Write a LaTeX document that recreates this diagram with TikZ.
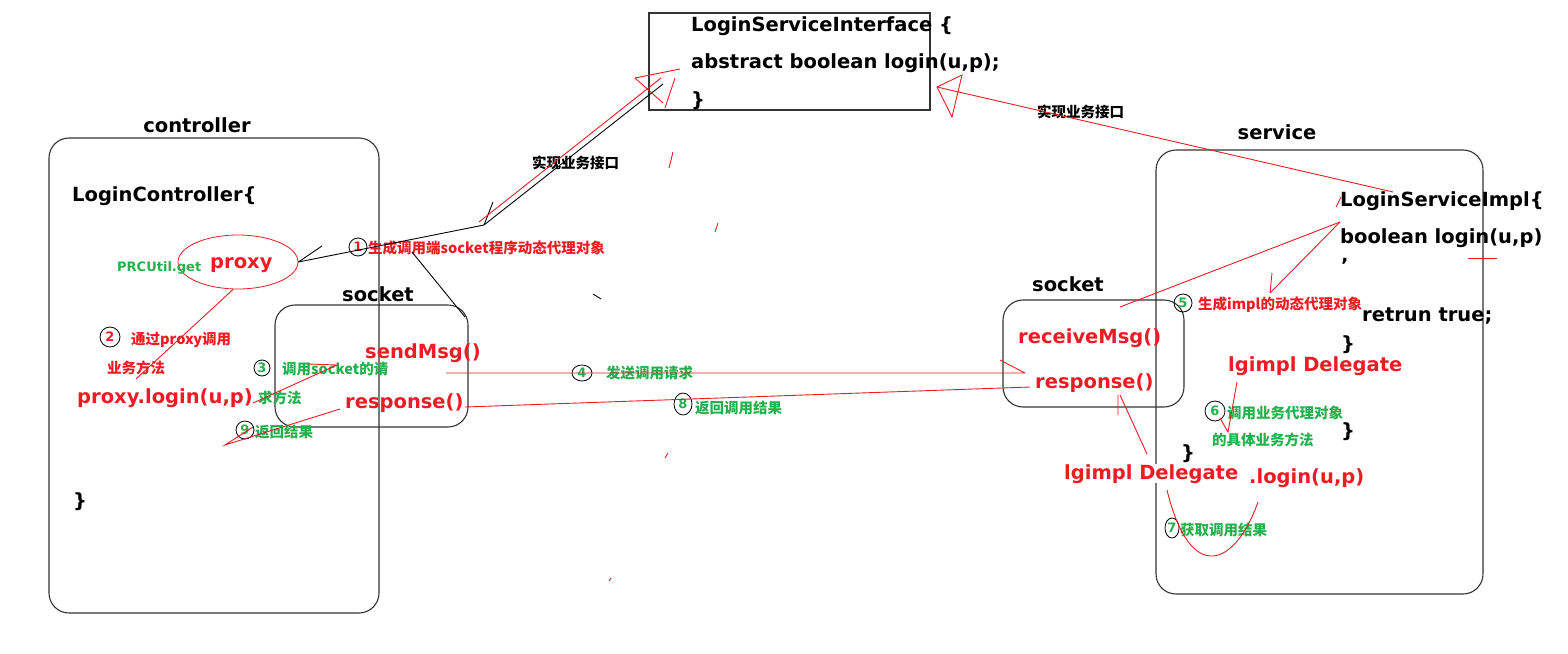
\documentclass[tikz,border=0pt]{standalone}
\usepackage{fontspec}
\setmainfont{DejaVu Sans}
\newfontfamily\cjk{Noto Sans CJK SC}
\usetikzlibrary{shapes.geometric}
\definecolor{mspred}{RGB}{237,28,36}
\definecolor{mspgreen}{RGB}{34,177,76}
\tikzset{
	code/.style={anchor=base west, inner sep=0pt, font=\fontsize{19.5}{22}\selectfont\bfseries},
	redcode/.style={code, text=mspred},
	title/.style={code, anchor=base},
	note/.style={anchor=base west, inner sep=0pt, font=\cjk\fontsize{14.5}{16}\selectfont\bfseries},
	rednote/.style={note, text=mspred},
	greennote/.style={note, text=mspgreen},
	stepno/.style={draw=black, ellipse, line width=0.8pt, inner sep=0pt, minimum width=18pt, minimum height=18pt, font=\fontsize{13}{14}\selectfont\bfseries},
	box/.style={draw=black!80, line width=1.1pt, rounded corners=20pt},
	pen/.style={draw=mspred, line width=0.9pt},
	blackpen/.style={draw=black, line width=0.9pt}
}

\begin{document}
\begin{tikzpicture}[x=1pt,y=-1pt]
	\fill[white] (0,0) rectangle (1568,653);
	\useasboundingbox (0,0) rectangle (1568,653);

	% LoginServiceInterface
	\draw[black!80, line width=1.1pt] (649,13) rectangle (930,110);
	\node[code] (ifacehead) at (691,31) {LoginServiceInterface \{};
	\node[code] (ifacelogin) at (691,68) {abstract boolean login(u,p);};
	\node[code] (ifaceend) at (691,106) {\}};

	% controller
	\draw[box] (49,138) rectangle (379,613);
	\draw[box] (275,305) rectangle (468,427);
	\node[title] (ctrltitle) at (197,132) {controller};
	\node[title] (sockettitle) at (378,301) {socket};
	\node[code] (ctrlhead) at (72,201) {LoginController\{};
	\node[code] (ctrlend) at (73,507) {\}};
	\node[draw=mspred, line width=0.8pt, ellipse, minimum width=120pt, minimum height=54pt] (proxyell) at (238,262) {};
	\node[code, text=mspgreen, font=\fontsize{13}{14}\selectfont\bfseries] (rpcget) at (117,271) {PRCUtil.get};
	\node[redcode] (proxytxt) at (210,268) {proxy};
	\node[redcode] (proxylogin) at (77,403) {proxy.login(u,p)};
	\node[redcode] (sendmsg) at (365,358) {sendMsg()};
	\node[redcode] (response) at (345,408) {response()};

	\node[stepno, text=mspred] (no1) at (358,247) {1};
	\node[rednote] (no1txt) at (368,253) {生成调用端socket程序动态代理对象};
	\node[stepno, text=mspred, minimum size=20pt] (no2) at (110,337) {2};
	\node[rednote] (no2txt) at (131,344) {通过proxy调用};
	\node[rednote] (no2txtb) at (107,373) {业务方法};
	\node[stepno, text=mspgreen, minimum width=16pt, minimum height=16pt] (no3) at (262,368) {3};
	\node[greennote] (no3txt) at (282,374) {调用socket的请};
	\node[greennote] (no3txtb) at (258,403) {求方法};
	\node[stepno, text=mspgreen] (no9) at (245,430) {9};
	\node[greennote] (no9txt) at (255,437) {返回结果};

	% between the two sides
	\node[note] (implleft) at (532,168) {实现业务接口};
	\node[note] (implright) at (1037,117) {实现业务接口};
	\node[stepno, text=mspgreen, minimum width=20pt, minimum height=16pt] (no4) at (582,373) {4};
	\node[greennote] (no4txt) at (606,378) {发送调用请求};
	\node[stepno, text=mspgreen, minimum width=18pt, minimum height=22pt] (no8) at (683,404) {8};
	\node[greennote] (no8txt) at (695,413) {返回调用结果};

	% service
	\draw[box] (1156,150) rectangle (1483,594);
	\draw[box] (1003,300) rectangle (1184,407);
	\node[title] (servicetitle) at (1277,139) {service};
	\node[title] (sockettitleb) at (1068,291) {socket};
	\node[code] (implhead) at (1340,206) {LoginServiceImpl\{};
	\node[code] (impllogin) at (1340,243) {boolean login(u,p)};
	\node[code] (implmark) at (1341,272) {'};
	\node[code] (implret) at (1362,321) {retrun true;};
	\node[code] (implend) at (1341,350) {\}};
	\node[code] (implendb) at (1341,437) {\}};
	\node[redcode] (recvmsg) at (1018,343) {receiveMsg()};
	\node[redcode] (responseb) at (1035,388) {response()};
	\node[redcode] (delegate) at (1228,371) {lgimpl Delegate};
	\node[redcode, fill=white] (delegateb) at (1064,479) {lgimpl Delegate};
	\node[code] (implendc) at (1181,459) {\}};
	\node[redcode] (delegatelogin) at (1249,483) {.login(u,p)};

	\node[stepno, text=mspgreen] (no5) at (1183,303) {5};
	\node[rednote] (no5txt) at (1198,309) {生成impl的动态代理对象};
	\node[stepno, text=mspgreen, minimum size=20pt] (no6) at (1215,411) {6};
	\node[greennote] (no6txt) at (1227,418) {调用业务代理对象};
	\node[greennote] (no6txtb) at (1212,445) {的具体业务方法};
	\node[stepno, text=mspgreen, minimum width=14pt, minimum height=20pt] (no7) at (1172,528) {7};
	\node[greennote] (no7txt) at (1180,535) {获取调用结果};

	% free ends of the strokes
	\coordinate (ifacecorner) at (663,84);
	\coordinate (bend) at (484,225);
	\coordinate (bendtick) at (493,202);
	\coordinate (proxytick) at (322,246);
	\coordinate (redcorner) at (661,78);
	\coordinate (redbend) at (479,222);
	\coordinate (ifaceright) at (937,87);
	\coordinate (implend) at (1393,192);
	\coordinate (implfork) at (1340,222);
	\coordinate (recvtop) at (1120,307);
	\coordinate (fivetip) at (1270,293);
	\coordinate (sendstart) at (446,373);
	\coordinate (sendend) at (1025,373);
	\coordinate (respstart) at (1030,387);
	\coordinate (respend) at (465,407);
	\coordinate (logintip) at (136,379);
	\coordinate (sockcorner) at (465,317);

	% implementing the interface
	\draw[blackpen] (ifacecorner) -- (bend) -- (proxyell.east);
	\draw[blackpen] (bendtick) -- (bend);
	\draw[blackpen] (proxytick) -- (proxyell.east);
	\draw[blackpen] (412,252) -- (sockcorner);
	\draw[pen] (redcorner) -- (redbend);
	\draw[pen] (635,78) -- (680,69) (635,78) -- (663,103) (675,78) -- (665,108);
	\draw[pen] (ifaceright) -- (implend);
	\draw[pen] (ifaceright) -- (962,75) -- (952,117) -- cycle;
	\draw[pen] (1336,207) -- (1341,197);

	% steps 1 to 9
	\draw[pen] (proxyell.-100) -- (logintip);
	\draw[pen] (308,364) -- (337,365) -- (253,403);
	\draw[pen] (sendstart) -- (sendend) (1000,360) -- (sendend);
	\draw[pen] (implfork) -- (recvtop);
	\draw[pen] (implfork) -- (fivetip) (1272,273) -- (fivetip);
	\draw[pen] (1237,382) -- (1228,432) -- (1220,418);
	\draw[pen] (1167,490) .. controls (1190,585) and (1235,567) .. (1258,502);
	\draw[pen] (1147,454) -- (1120,395) (1118,395) -- (1118,415);
	\draw[pen] (respstart) -- (respend);
	\draw[pen] (340,409) -- (225,445) -- (253,427);
	\draw[pen] (1468,258) -- (1497,258);

	% stray marks
	\draw[pen] (673,152) -- (669,168) (718,223) -- (715,232) (668,453) -- (665,458) (611,578) -- (609,581);
	\draw[blackpen] (593,294) -- (601,299);
\end{tikzpicture}
\end{document}
